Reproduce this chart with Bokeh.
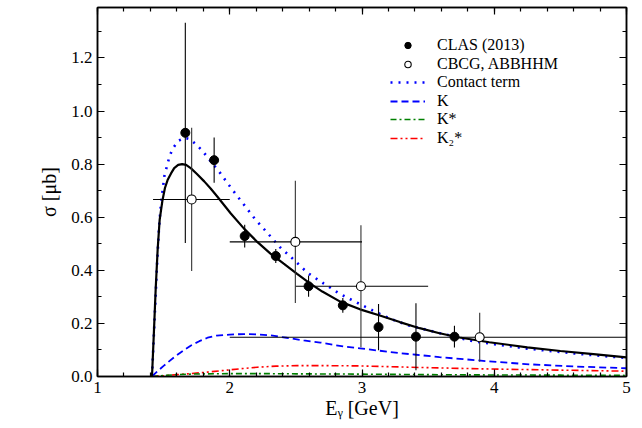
import numpy as np
from bokeh.plotting import figure
from bokeh.models import (Range1d, LinearAxis, SingleIntervalTicker, NumeralTickFormatter,
                          CustomJSTickFormatter, Legend, LegendItem)
from bokeh.embed import file_html
from bokeh.resources import INLINE

FONT = "Liberation Serif"

# ---- data ----
# CLAS (2013) filled points
clas_E = [1.664, 1.882, 2.113, 2.348, 2.596, 2.855, 3.125, 3.408, 3.699]
clas_s = [0.918, 0.815, 0.529, 0.454, 0.340, 0.268, 0.186, 0.150, 0.150]
clas_err = [0.415, 0.085, 0.043, 0.026, 0.040, 0.028, 0.087, 0.126, 0.041]

# CBCG, ABBHHM open points
old_E = [1.712, 2.496, 2.992, 3.890]
old_s = [0.667, 0.507, 0.340, 0.148]
old_err = [0.270, 0.230, 0.230, 0.092]
old_Elo = [1.42, 2.0, 2.5, 2.0]
old_Ehi = [2.0, 3.0, 3.5, 5.0]

# total (black solid)
tot_E = [1.412, 1.425, 1.44, 1.455, 1.47, 1.49, 1.51, 1.53, 1.556, 1.58, 1.61, 1.64, 1.67,
         1.707, 1.75, 1.807, 1.857, 1.907, 2.008, 2.108, 2.208, 2.308, 2.408, 2.509, 2.609,
         2.70, 2.835, 2.985, 3.135, 3.286, 3.436, 3.586, 3.737, 3.962, 4.25, 4.5, 4.75, 5.0]
tot_s = [0.0, 0.15, 0.33, 0.48, 0.59, 0.66, 0.71, 0.74, 0.765, 0.785, 0.797, 0.800, 0.797,
         0.784, 0.764, 0.735, 0.707, 0.677, 0.614, 0.557, 0.507, 0.463, 0.425, 0.387, 0.350,
         0.320, 0.282, 0.253, 0.230, 0.205, 0.182, 0.163, 0.147, 0.129, 0.110, 0.096, 0.084, 0.072]

# contact term (blue dotted)
con_E = [1.412, 1.43, 1.45, 1.465, 1.48, 1.506, 1.544, 1.569, 1.612, 1.66, 1.70, 1.744, 1.794,
         1.839, 1.927, 2.013, 2.10, 2.188, 2.283, 2.378, 2.484, 2.589, 2.709, 2.830, 2.955,
         3.080, 3.211, 3.356, 3.486, 3.699, 3.837, 4.0, 4.25, 4.5, 4.75, 5.0]
con_s = [0.0, 0.20, 0.42, 0.56, 0.652, 0.756, 0.828, 0.859, 0.888, 0.899, 0.894, 0.875, 0.850,
         0.821, 0.767, 0.708, 0.652, 0.595, 0.542, 0.488, 0.440, 0.390, 0.351, 0.312, 0.280,
         0.249, 0.218, 0.192, 0.176, 0.150, 0.133, 0.122, 0.105, 0.092, 0.080, 0.070]

# K exchange (blue dashed)
k_E = [1.412, 1.45, 1.5, 1.58, 1.65, 1.707, 1.77, 1.832, 1.9, 2.0, 2.108, 2.2, 2.308, 2.43,
       2.559, 2.684, 2.86, 2.985, 3.135, 3.286, 3.41, 3.586, 3.937, 4.263, 4.6, 5.0]
k_s = [0.0, 0.018, 0.040, 0.073, 0.098, 0.117, 0.133, 0.146, 0.154, 0.158, 0.160, 0.159, 0.155,
       0.146, 0.136, 0.128, 0.113, 0.106, 0.097, 0.088, 0.082, 0.073, 0.058, 0.046, 0.038, 0.031]

# K* exchange (green dash-dot)
ks_E = [1.412, 1.5, 1.6, 1.707, 2.0, 2.208, 2.5, 2.96, 3.5, 3.887, 4.5, 5.0]
ks_s = [0.0, 0.004, 0.007, 0.009, 0.011, 0.011, 0.010, 0.009, 0.007, 0.006, 0.005, 0.004]

# K2* exchange (red dash-dot-dot)
k2_E = [1.412, 1.5, 1.6, 1.7, 1.8, 1.957, 2.1, 2.208, 2.35, 2.509, 2.7, 2.96, 3.135, 3.436,
        3.887, 4.5, 5.0]
k2_s = [0.0, 0.003, 0.007, 0.011, 0.015, 0.023, 0.030, 0.035, 0.039, 0.041, 0.041, 0.040,
        0.038, 0.034, 0.029, 0.024, 0.020]

legend_labels = ["CLAS (2013)", "CBCG, ABBHHM", "Contact term", "K", "K*", "K₂*"]
x_label = "Eᵧ [GeV]"
y_label = "σ [μb]"

# ---- figure ----
p = figure(width=642, height=428, output_backend="svg", toolbar_location=None,
           x_range=Range1d(1, 5), y_range=Range1d(0, 1.39),
           x_axis_type=None, y_axis_type=None,
           min_border_left=97, min_border_right=16, min_border_top=7, min_border_bottom=52)
p.grid.visible = False
p.outline_line_color = "black"
p.outline_line_width = 1.5
p.background_fill_color = "white"
p.border_fill_color = "white"


def style_axis(ax, labels=True):
    ax.axis_line_width = 1.5
    ax.axis_line_color = "black"
    ax.major_tick_in = 7
    ax.major_tick_out = 0
    ax.minor_tick_in = 4
    ax.minor_tick_out = 0
    ax.major_tick_line_width = 1.2
    ax.minor_tick_line_width = 1.2
    ax.major_label_text_font = FONT
    ax.major_label_text_font_size = "17px"
    ax.major_label_text_color = "black"
    ax.axis_label_text_font = FONT
    ax.axis_label_text_font_style = "normal"
    ax.axis_label_text_font_size = "20px"
    ax.axis_label_text_color = "black"
    if not labels:
        ax.formatter = CustomJSTickFormatter(code="return ''")
        ax.major_label_standoff = 0


xb = LinearAxis(ticker=SingleIntervalTicker(interval=1, num_minor_ticks=5),
                formatter=NumeralTickFormatter(format="0"), axis_label=x_label)
style_axis(xb)
xb.major_label_standoff = 5
xb.axis_label_standoff = 1
p.add_layout(xb, "below")

yl = LinearAxis(ticker=SingleIntervalTicker(interval=0.2, num_minor_ticks=2),
                formatter=NumeralTickFormatter(format="0.0"), axis_label=y_label)
style_axis(yl)
yl.major_label_standoff = 5
yl.axis_label_standoff = 8
p.add_layout(yl, "left")

xt = LinearAxis(ticker=SingleIntervalTicker(interval=1, num_minor_ticks=5))
style_axis(xt, labels=False)
p.add_layout(xt, "above")

yr = LinearAxis(ticker=SingleIntervalTicker(interval=0.2, num_minor_ticks=2))
style_axis(yr, labels=False)
p.add_layout(yr, "right")

# ---- curves ----
r_k2 = p.line(k2_E, k2_s, line_color="#ff0000", line_width=1.6, line_dash="7 3 2 3 2 3")
r_ks = p.line(ks_E, ks_s, line_color="#008000", line_width=1.6, line_dash="6 3 2 3")
r_k = p.line(k_E, k_s, line_color="#0000ff", line_width=1.8, line_dash="7 4")
r_con = p.line(con_E, con_s, line_color="#0000ff", line_width=2.6, line_dash="2 6")
r_tot = p.line(tot_E, tot_s, line_color="black", line_width=2.2)

# ---- error bars ----
c_E = np.array(clas_E); c_s = np.array(clas_s); c_e = np.array(clas_err)
p.segment(x0=c_E, y0=c_s - c_e, x1=c_E, y1=c_s + c_e, line_color="black", line_width=1.1)
o_E = np.array(old_E); o_s = np.array(old_s); o_e = np.array(old_err)
p.segment(x0=o_E, y0=o_s - o_e, x1=o_E, y1=o_s + o_e, line_color="#333333", line_width=1.1)
p.segment(x0=np.array(old_Elo), y0=o_s, x1=np.array(old_Ehi), y1=o_s, line_color="black",
          line_width=1.1)

r_clas = p.scatter(clas_E, clas_s, marker="circle", size=9, fill_color="black", line_color="black")
r_old = p.scatter(old_E, old_s, marker="circle", size=9, fill_color="white", line_color="black",
                  line_width=1.1)

# one single-row legend per entry so the row spacing can follow the reference
renderers = [r_clas, r_old, r_con, r_k, r_ks, r_k2]
row_offsets = [322, 303, 285, 266, 248, 229]   # screen px from the bottom of the frame
for lab, r, off in zip(legend_labels, renderers, row_offsets):
    lg = Legend(items=[LegendItem(label=lab, renderers=[r])], location=(293, off))
    lg.label_text_font = FONT
    lg.label_text_font_size = "16px"
    lg.label_text_color = "black"
    lg.label_standoff = 12
    lg.glyph_width = 35
    lg.glyph_height = 16
    lg.label_height = 16
    lg.padding = 0
    lg.margin = 0
    lg.border_line_color = None
    lg.background_fill_alpha = 0
    p.add_layout(lg, "center")

open("out.html", "w").write(file_html(p, INLINE))
